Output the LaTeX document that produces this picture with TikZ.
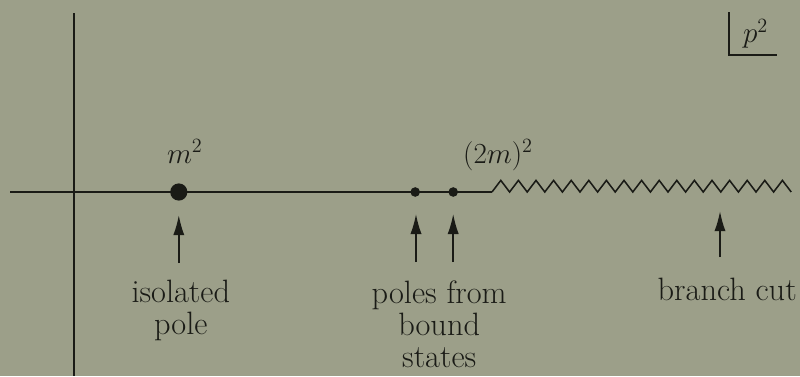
\documentclass[tikz,border=0pt]{standalone}
\usetikzlibrary{arrows.meta}
\definecolor{paper}{RGB}{156,159,137}
\definecolor{ink}{RGB}{26,27,22}

\begin{document}
\begin{tikzpicture}[>={Latex[length=5mm,width=2.8mm]}, line width=1.1pt, draw=ink,
    every node/.style={text=ink, font=\fontsize{21}{22.8}\selectfont},
    pole/.style={circle, fill=ink, inner sep=0pt},
    label/.style={anchor=base, align=center, font=\fontsize{23}{22.5}\selectfont}]
    \fill[paper] (0,0) rectangle (20,-9.4);
    \useasboundingbox (0,0) rectangle (20,-9.4);
    % axes
    \coordinate (west) at (0.25,-4.8);
    \coordinate (cut) at (12.3,-4.8);
    \draw (1.85,-0.33) -- (1.85,-9.4);
    \draw (west) -- (cut);
    \draw (cut) \foreach \i in {1,...,17} { -- ++(0.22,0.29) -- ++(0.22,-0.29)};
    % corner label
    \draw (18.22,-0.3) |- (19.43,-1.375);
    \node[anchor=base] (psq) at (18.89,-1.07) {$p^2$};
    % poles
    \node[pole, minimum size=0.43cm] (iso) at (4.47,-4.8) {};
    \node[pole, minimum size=0.24cm] (bs1) at (10.38,-4.8) {};
    \node[pole, minimum size=0.24cm] (bs2) at (11.33,-4.8) {};
    \node[anchor=base] (msq) at (4.62,-4.08) {$m^2$};
    \node[anchor=base] (twom) at (12.45,-4.08) {$(2m)^2$};
    % arrows
    \coordinate (isoFoot) at (4.47,-6.58);
    \coordinate (isoHead) at (4.47,-5.38);
    \coordinate (bs1Foot) at (10.4,-6.55);
    \coordinate (bs1Head) at (10.4,-5.35);
    \coordinate (bs2Foot) at (11.33,-6.55);
    \coordinate (bs2Head) at (11.33,-5.35);
    \coordinate (cutFoot) at (18.0,-6.43);
    \coordinate (cutHead) at (18.0,-5.28);
    \draw[->] (isoFoot) -- (isoHead);
    \draw[->] (bs1Foot) -- (bs1Head);
    \draw[->] (bs2Foot) -- (bs2Head);
    \draw[->] (cutFoot) -- (cutHead);
    % captions
    \node[label] (isoText) at (4.52,-8.35) {isolated\\pole};
    \node[label] (bsText) at (10.98,-9.18) {poles from\\bound\\states};
    \node[label] (cutText) at (18.18,-7.5) {branch cut};
\end{tikzpicture}
\end{document}
